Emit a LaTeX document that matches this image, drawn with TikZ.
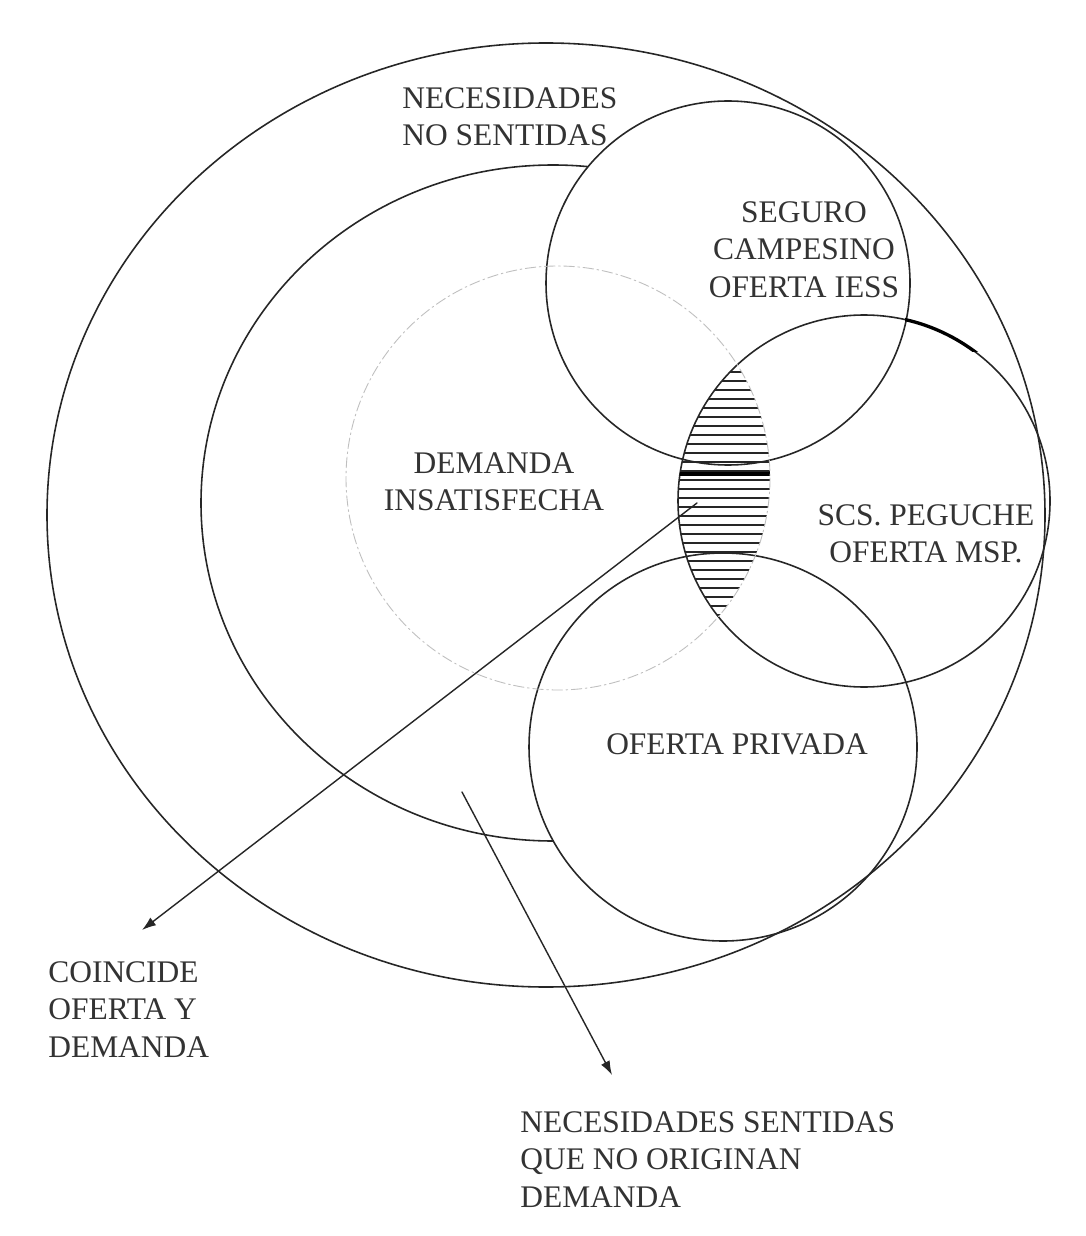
\documentclass[tikz,border=0pt]{standalone}
\usepackage{fontspec}
\setmainfont{Liberation Serif}
\usetikzlibrary{arrows.meta}

\begin{document}
\begin{tikzpicture}[
    x=0.02cm, y=-0.02cm,
    line cap=round,
    line join=round,
    >=Latex,
    ring/.style={line width=0.9pt,draw=black!85},
    dimring/.style={line width=0.5pt,draw=black!25,dash pattern=on 6pt off 2pt on 1pt off 2pt},
    hatch/.style={line width=1.3pt,black!85},
    lbl/.style={inner sep=0pt,font=\fontsize{17.9}{21.3}\selectfont,text=black!80},
    arrow/.style={-{Latex[length=8pt,width=5.5pt]},line width=0.8pt,black!85}
]
\useasboundingbox (0,0) rectangle (1085,1236);
\fill[white] (0,0) rectangle (1085,1236);

\coordinate (segC) at (728,283);
\coordinate (scsC) at (864,501);
\coordinate (privC) at (723,747);
\coordinate (demC) at (558,478);

\draw[ring] (553,503) ellipse [x radius=352, y radius=338];
\foreach \c/\r in {segC/182, scsC/186, privC/194}
    \fill[white] (\c) circle [radius=\r];
\foreach \c/\r in {segC/182, scsC/186, privC/194}
    \draw[ring] (\c) circle [radius=\r];

\begin{scope}
    \clip (scsC) circle [radius=186];
    \clip (demC) circle [radius=212];
    \foreach \y in {372,381,...,630}
        \draw[hatch] (660,\y) -- (800,\y);
    \draw[line width=2.6pt] (660,474) -- (800,474);
\end{scope}

\draw[dimring] (demC) circle [radius=212];
\draw[ring] (546,515) ellipse [x radius=499, y radius=472];

\begin{scope}
    \clip (905,300) rectangle (978,352);
    \draw[line width=1.9pt] (scsC) circle [radius=186];
\end{scope}

\node[lbl,anchor=north west,align=left] (nosentidas) at (402,87) {NECESIDADES\\NO SENTIDAS};
\node[lbl,anchor=north,align=center] (seguro) at (804,201) {SEGURO\\CAMPESINO\\OFERTA IESS};
\node[lbl,anchor=north,align=center] (demanda) at (494,452) {DEMANDA\\INSATISFECHA};
\node[lbl,anchor=north,align=center] (msp) at (926,504) {SCS. PEGUCHE\\OFERTA MSP.};
\node[lbl,anchor=north] (privada) at (737,733) {OFERTA PRIVADA};
\node[lbl,anchor=north west,align=left] (coincide) at (48,961) {COINCIDE\\OFERTA Y\\DEMANDA};
\node[lbl,anchor=north west,align=left] (sentidas) at (520,1111) {NECESIDADES SENTIDAS\\QUE NO ORIGINAN\\DEMANDA};

\coordinate (lensA) at (697,503);
\coordinate (tipA) at (142,930);
\coordinate (ringB) at (462,792);
\coordinate (tipB) at (612,1075);
\draw[arrow] (lensA) -- (tipA);
\draw[arrow] (ringB) -- (tipB);

\end{tikzpicture}
\end{document}
